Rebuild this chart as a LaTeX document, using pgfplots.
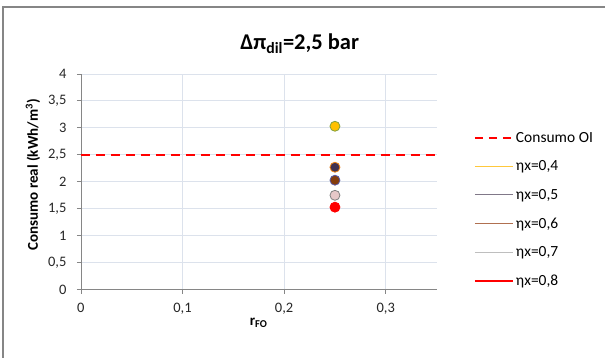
\documentclass[border=0pt]{standalone}
\usepackage{pgfplots}
\pgfplotsset{compat=1.18}
\usepackage{fontspec}
\setmainfont{Carlito}
\definecolor{gridc}{RGB}{220,226,236}
\definecolor{axc}{RGB}{134,134,134}
\definecolor{cyel}{RGB}{255,192,0}
\definecolor{cpur}{RGB}{64,49,81}
\definecolor{cbrn}{RGB}{132,60,12}
\definecolor{cpnk}{RGB}{230,200,200}
\definecolor{lyel}{RGB}{255,200,60}
\definecolor{lgry}{RGB}{128,120,136}
\definecolor{lbrn}{RGB}{176,112,80}
\definecolor{lpnk}{RGB}{190,190,190}
\pgfplotsset{mylegline/.style={legend image code/.code={\draw[##1] (0bp,0bp) -- (38bp,0bp);}}}
\begin{document}
\begin{tikzpicture}[x=1bp,y=1bp]
\path (-81bp,-68bp) rectangle (525bp,290bp);
\draw[axc,line width=1.2bp] (-78bp,-68bp) -- (-78bp,283bp) -- (525bp,283bp);
\begin{axis}[
  at={(0,0)}, anchor=south west,
  scale only axis, width=356bp, height=216bp,
  xmin=0, xmax=0.35, ymin=0, ymax=4,
  xtick={0,0.1,0.2,0.3}, ytick={0,0.5,...,4},
  /pgf/number format/use comma,
  /pgf/number format/assume math mode=true,
  tick label style={font=\fontsize{14.5bp}{16bp}\selectfont, text=black!85},
  xticklabel style={yshift=-6bp},
  yticklabel style={xshift=-7bp},
  grid=major, major grid style={gridc, line width=0.8bp},
  axis x line*=bottom, axis y line*=left,
  axis line style={axc, line width=0.8bp, -},
  tick style={axc, line width=0.8bp},
  tick align=outside, major tick length=4bp,
  legend cell align=left,
  legend style={at={(rel axis cs:1.095,0.75)}, anchor=north west, draw=none, fill=none,
    font=\fontsize{15.5bp}{17bp}\selectfont, row sep=13bp,
    /tikz/every even column/.append style={column sep=5bp}},
  clip=false,
]
\addplot[red, line width=2.5bp, dash pattern=on 9bp off 6bp, forget plot] coordinates {(0,2.5) (0.35,2.5)};
\addplot[only marks, mark=*, mark size=5bp, fill=cyel, draw=cyel!50!teal, line width=0.8bp, forget plot]
  coordinates {(0.25,3.03)};
\addplot[only marks, mark=*, mark size=5bp, fill=cpur, draw=orange!70!brown, line width=0.8bp, forget plot]
  coordinates {(0.25,2.27)};
\addplot[only marks, mark=*, mark size=5bp, fill=cbrn, draw=gray!70!blue, line width=0.8bp, forget plot]
  coordinates {(0.25,2.03)};
\addplot[only marks, mark=*, mark size=5bp, fill=cpnk, draw=gray, line width=0.8bp, forget plot]
  coordinates {(0.25,1.75)};
\addplot[only marks, mark=*, mark size=5bp, fill=red, draw=red, line width=0.8bp, forget plot]
  coordinates {(0.25,1.53)};
\addlegendimage{red, line width=2.5bp, dash pattern=on 8bp off 6bp, mylegline}
\addlegendentry{Consumo OI}
\addlegendimage{lyel, line width=1.3bp, mylegline}
\addlegendentry{ηx=0,4}
\addlegendimage{lgry, line width=1.3bp, mylegline}
\addlegendentry{ηx=0,5}
\addlegendimage{lbrn, line width=1.3bp, mylegline}
\addlegendentry{ηx=0,6}
\addlegendimage{lpnk, line width=1.3bp, mylegline}
\addlegendentry{ηx=0,7}
\addlegendimage{red, line width=1.3bp, mylegline}
\addlegendentry{ηx=0,8}
\end{axis}
\node[font=\bfseries\fontsize{22.5bp}{26bp}\selectfont] at (219bp,246bp) {Δπ\textsubscript{dil}=2,5 bar};
\node[font=\bfseries\fontsize{15bp}{17bp}\selectfont, rotate=90] at (-48bp,115bp) {Consumo real (kWh/m\textsuperscript{3})};
\node[font=\bfseries\fontsize{15bp}{17bp}\selectfont] at (178bp,-33bp) {r\textsubscript{FO}};
\end{tikzpicture}
\end{document}
